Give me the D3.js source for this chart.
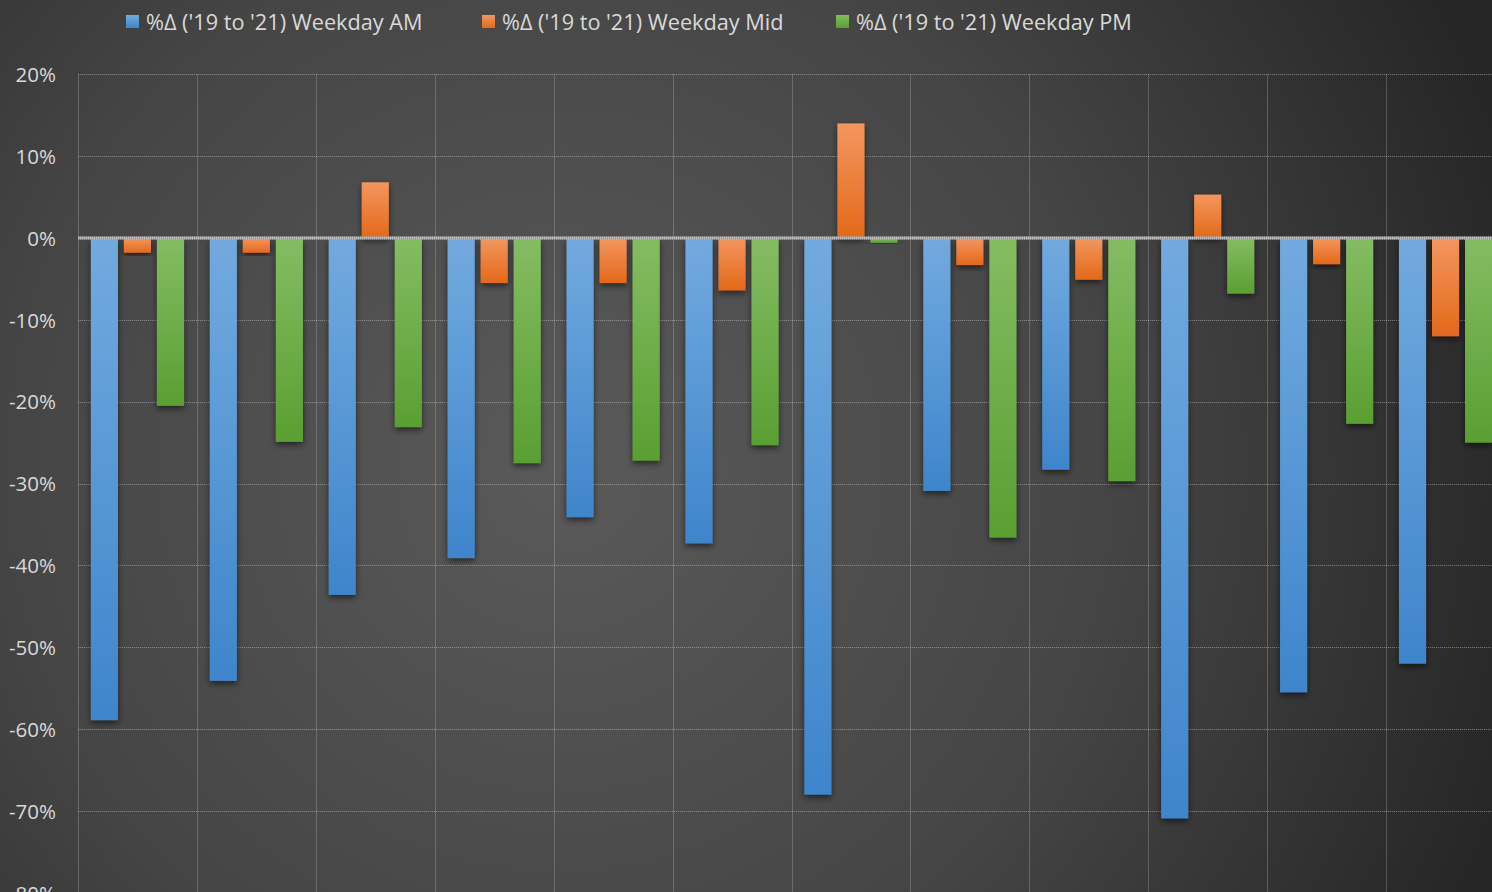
<!DOCTYPE html>
<html><head><meta charset="utf-8">
<script src="https://cdn.jsdelivr.net/npm/d3@7"></script>
<style>html,body{margin:0;padding:0;background:#333;overflow:hidden}</style>
</head><body>
<svg id="chart" width="1492" height="892"></svg>
<script>
const categories = ["1","2","3","4","5","6","7","8","9","10","11","12"];
const seriesNames = ["%Δ ('19 to '21) Weekday AM","%Δ ('19 to '21) Weekday Mid","%Δ ('19 to '21) Weekday PM"];
const weekdayAM  = [-58.9,-54.1,-43.6,-39.1,-34.1,-37.3,-68.0,-30.9,-28.3,-70.9,-55.5,-52.0];
const weekdayMid = [-1.8,-1.8,6.8,-5.5,-5.5,-6.4,14.0,-3.3,-5.1,5.3,-3.2,-12.0];
const weekdayPM  = [-20.5,-24.9,-23.1,-27.5,-27.2,-25.3,-0.6,-36.6,-29.7,-6.8,-22.7,-25.0];
const yTicks = [20,10,0,-10,-20,-30,-40,-50,-60,-70,-80];
const colors = [["#72aadf","#3f85cb"],["#f4965f","#e3691a"],["#84bc62","#5a9f32"]];

const W=1492,H=892;
const svg=d3.select("#chart");
const defs=svg.append("defs");
const bg=defs.append("radialGradient").attr("id","bg").attr("gradientUnits","userSpaceOnUse")
  .attr("cx",560).attr("cy",470).attr("r",1000);
bg.append("stop").attr("offset","0").attr("stop-color","#5a5a5a");
bg.append("stop").attr("offset","0.55").attr("stop-color","#454545");
bg.append("stop").attr("offset","1").attr("stop-color","#262626");
svg.append("rect").attr("width",W).attr("height",H).attr("fill","url(#bg)");

colors.forEach((c,i)=>{
  const g=defs.append("linearGradient").attr("id","g"+i).attr("x1",0).attr("y1",0).attr("x2",0).attr("y2",1);
  g.append("stop").attr("offset","0").attr("stop-color",c[0]);
  g.append("stop").attr("offset","1").attr("stop-color",c[1]);
});
const f=defs.append("filter").attr("id","sh").attr("x","-30%").attr("y","-10%").attr("width","160%").attr("height","130%");
f.append("feDropShadow").attr("dx",0).attr("dy",3).attr("stdDeviation",3).attr("flood-color","#000").attr("flood-opacity",0.55);

const left=78, right=1505, zeroY=238, per10=81.86;
const y=d3.scaleLinear().domain([0,-70]).range([zeroY,zeroY+7*per10]);
const x0=d3.scaleBand().domain(categories).range([left,right]).paddingInner(0).paddingOuter(0);
const x1=d3.scaleBand().domain([0,1,2]).range([0,x0.bandwidth()]).paddingInner(0.18).paddingOuter(0.39);

const grid=svg.append("g");
yTicks.filter(t=>t!==0).forEach(t=>{
  grid.append("line").attr("x1",left).attr("x2",W).attr("y1",Math.round(y(t))+0.5).attr("y2",Math.round(y(t))+0.5)
    .attr("stroke","rgba(255,255,255,0.07)").attr("stroke-width",1);
  grid.append("line").attr("x1",left).attr("x2",W).attr("y1",Math.round(y(t))+0.5).attr("y2",Math.round(y(t))+0.5)
    .attr("stroke","rgba(220,220,220,0.35)").attr("stroke-width",1).attr("stroke-dasharray","1,1");
});
categories.concat(["end"]).forEach((c,i)=>{
  const xx=Math.round(left+i*x0.step())+0.5;
  grid.append("line").attr("x1",xx).attr("x2",xx).attr("y1",y(20)).attr("y2",H)
    .attr("stroke","rgba(255,255,255,0.07)");
  grid.append("line").attr("x1",xx).attr("x2",xx).attr("y1",y(20)).attr("y2",H)
    .attr("stroke","rgba(220,220,220,0.35)").attr("stroke-dasharray","1,1");
});

const allSeries=[weekdayAM,weekdayMid,weekdayPM];
const bars=svg.append("g");
categories.forEach((c,ci)=>{
  allSeries.forEach((s,si)=>{
    const v=s[ci];
    const ya=y(Math.max(0,v)), yb=y(Math.min(0,v));
    bars.append("rect").attr("x",x0(c)+x1(si)).attr("width",x1.bandwidth())
      .attr("y",ya).attr("height",yb-ya).attr("fill","url(#g"+si+")").attr("filter","url(#sh)");
  });
});

// zero line
svg.append("line").attr("x1",left).attr("x2",W).attr("y1",zeroY).attr("y2",zeroY)
  .attr("stroke","#9a9a9a").attr("stroke-width",3);
svg.append("line").attr("x1",left).attr("x2",W).attr("y1",zeroY).attr("y2",zeroY)
  .attr("stroke","#d0d0d0").attr("stroke-width",3).attr("stroke-dasharray","1,1").attr("opacity",0.7);

// y axis labels
const yAxis=d3.axisLeft(y).tickValues(yTicks).tickSize(0).tickPadding(0).tickFormat(d=>d+"%");
const ya=svg.append("g").attr("transform","translate(56,0)").call(yAxis);
ya.select(".domain").remove();
ya.selectAll("text").attr("fill","#d9d9d9").attr("font-family","'Open Sans',sans-serif").attr("font-size","20.5px").attr("dy","0.35em");

// legend
const legX=[126,482,836];
const leg=svg.append("g");
seriesNames.forEach((n,i)=>{
  leg.append("rect").attr("x",legX[i]).attr("y",15).attr("width",13).attr("height",13).attr("fill","url(#g"+i+")");
  leg.append("text").attr("x",legX[i]+20).attr("y",22).attr("dy","0.35em").attr("fill","#d9d9d9")
    .attr("font-family","'Open Sans',sans-serif").attr("font-size","21.7px").text(n);
});
</script>
</body></html>
